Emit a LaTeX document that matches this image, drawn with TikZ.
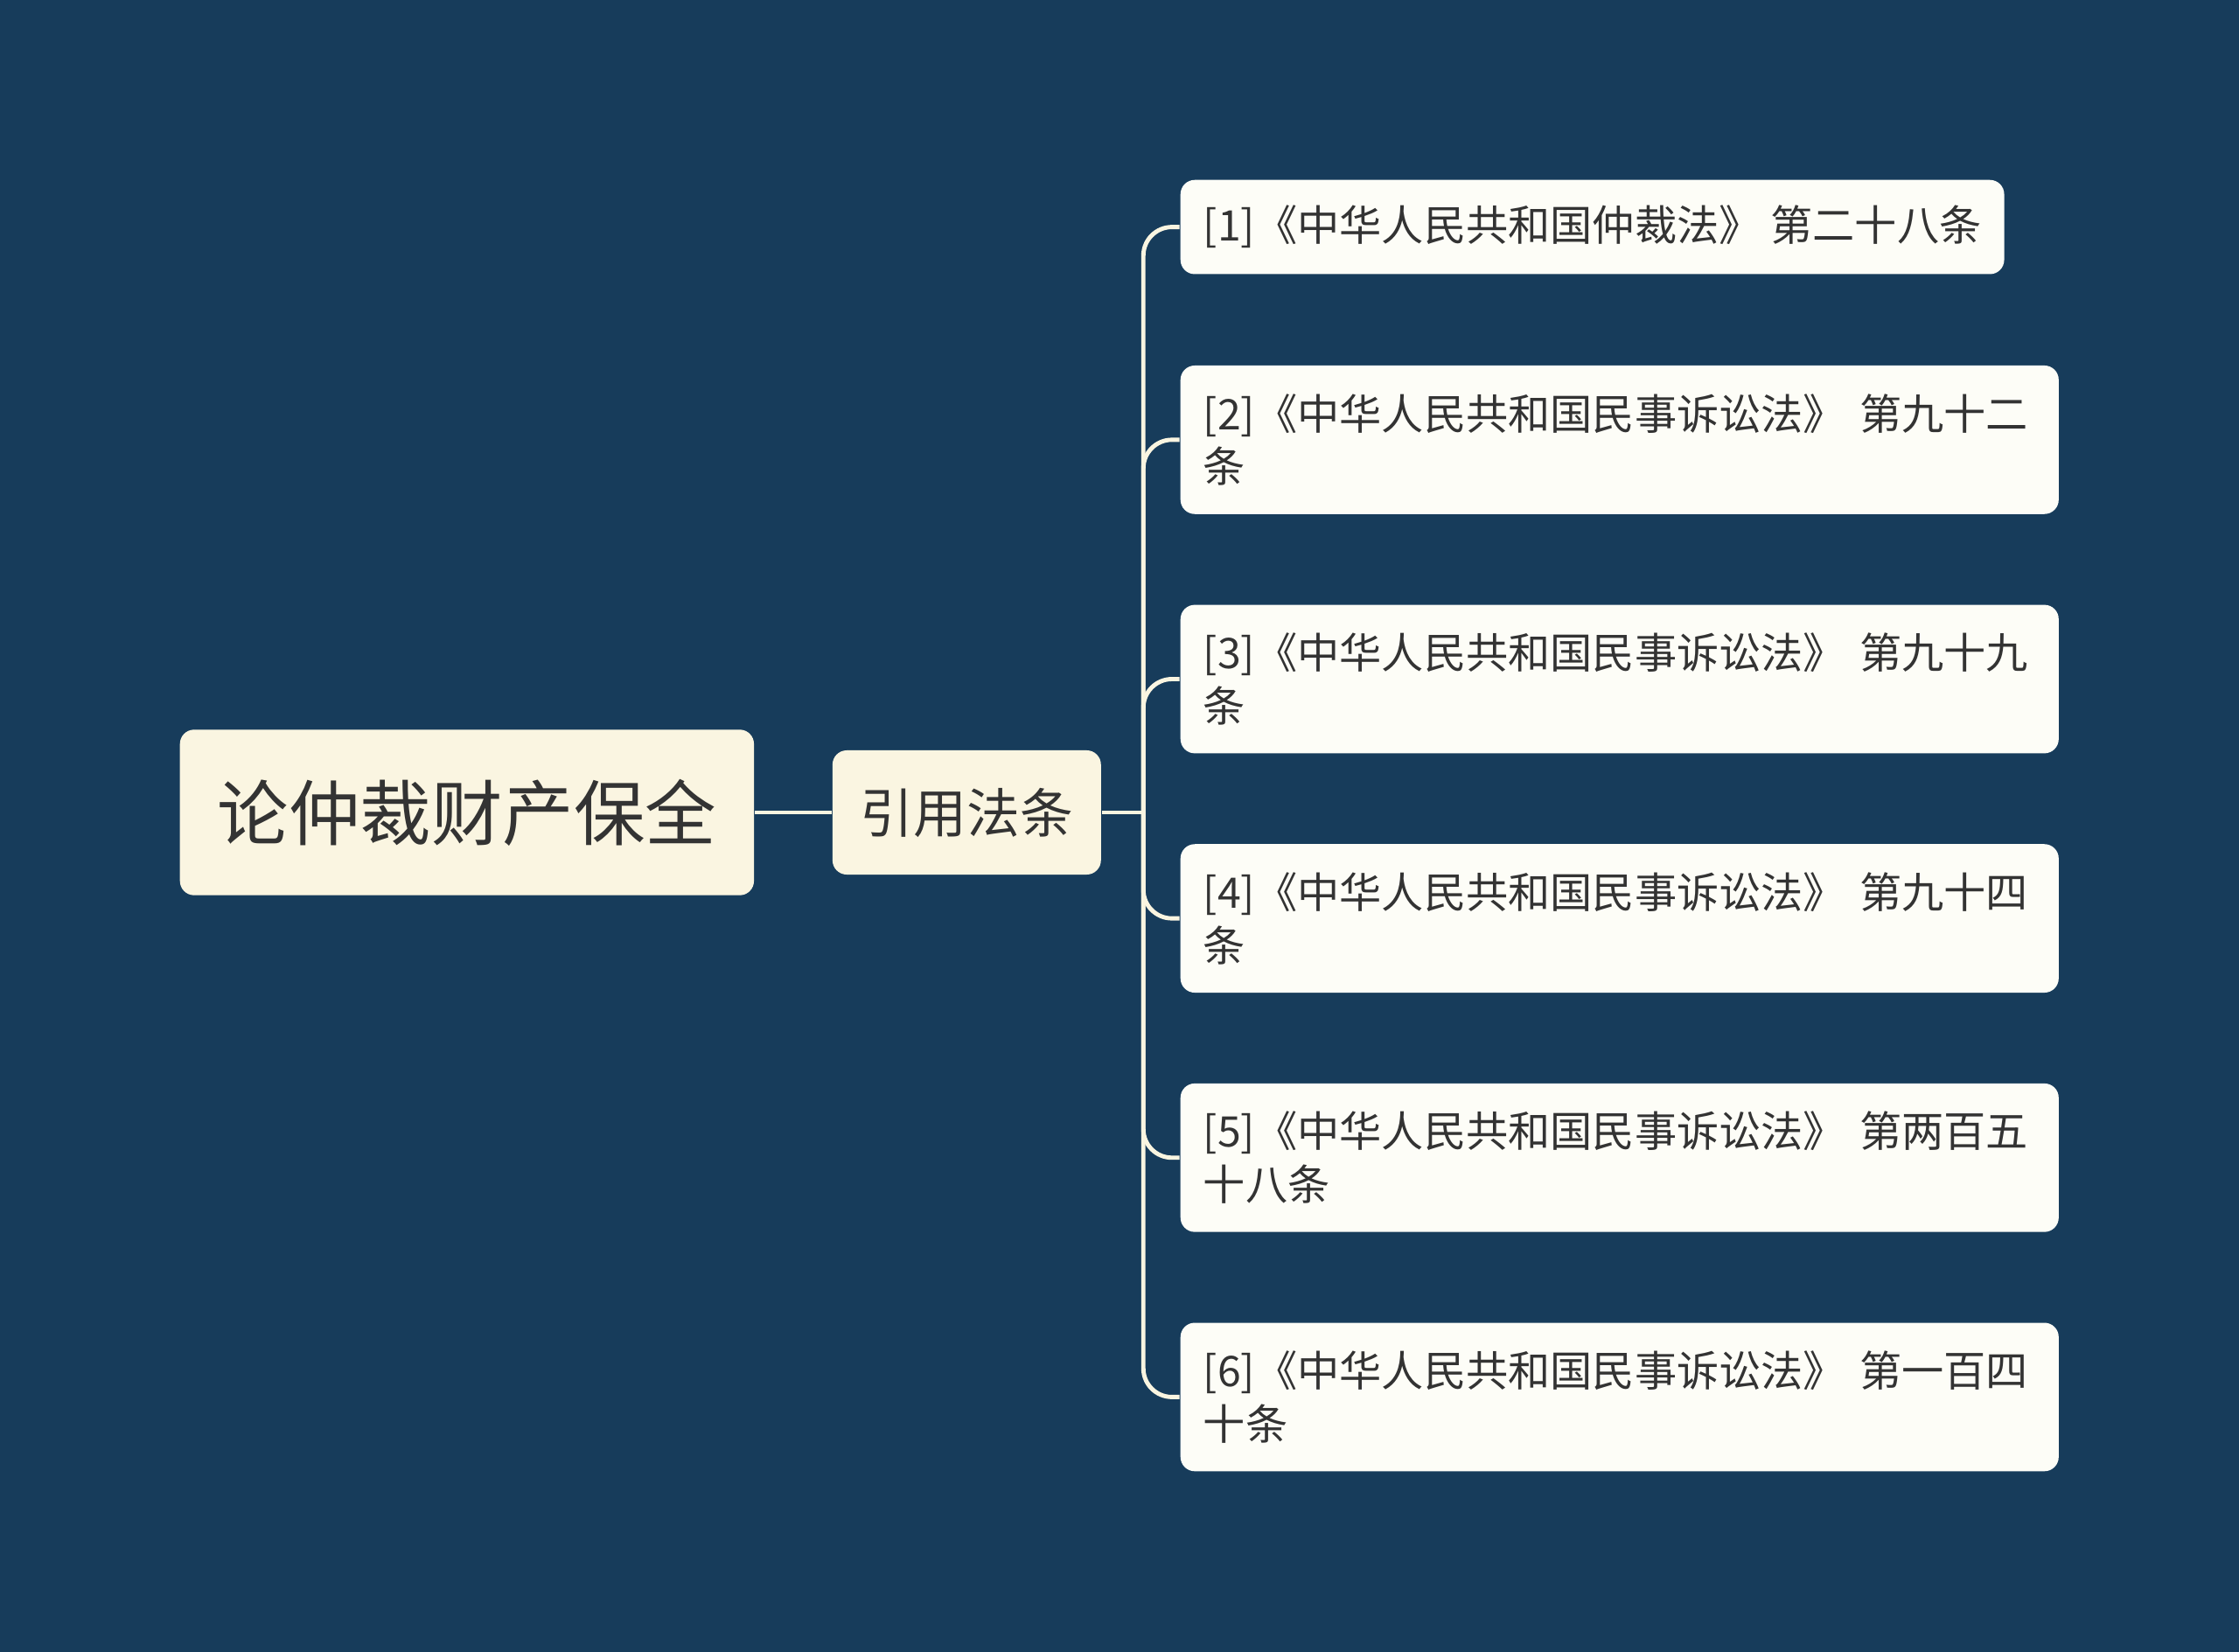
\documentclass[tikz,border=0pt]{standalone}
\usepackage{fontspec}
\setmainfont{Noto Sans CJK SC}
\usetikzlibrary{positioning}
\definecolor{bgblue}{HTML}{173C5B}
\definecolor{cream}{HTML}{FAF5E1}
\definecolor{paper}{HTML}{FDFDF7}
\definecolor{ink}{HTML}{333333}

\begin{document}
\begin{tikzpicture}[node distance=3.5cm,
    box/.style={rectangle,rounded corners=0.1cm,text=ink,inner ysep=0pt},
    topic/.style={box,fill=cream,minimum width=4.02cm,minimum height=1.16cm,
      font=\fontsize{14.2}{17}\selectfont},
    sub/.style={box,fill=cream,minimum width=1.88cm,minimum height=0.87cm,
      font=\fontsize{10.6}{13}\selectfont},
    law/.style={box,fill=paper,anchor=west,inner xsep=0.16cm,minimum height=0.66cm,
      font=\fontsize{8.4}{10.6}\selectfont},
    lawlong/.style={law,text width=5.83cm,align=left,minimum height=1.04cm},
    link/.style={draw=cream,line width=0.03cm,rounded corners=0.2cm}]
  \fill[bgblue] (0,0) rectangle (15.68,-11.57);
  \useasboundingbox (0,0) rectangle (15.68,-11.57);

  \node[topic] (root) at (3.27,-5.69) {论仲裁财产保全};
  \node[sub] (refs) [right of=root] {引用法条};
  \path (refs.east) ++(0.29,0) coordinate (hub);

  \node[law] (l1) at (8.26,-1.59) {[1]《中华人民共和国仲裁法》 第二十八条};
  \node[lawlong] (l2) at (8.26,-3.08) {[2]《中华人民共和国民事诉讼法》 第九十二\\条};
  \begin{scope}[node distance=1.676cm]
    \node[lawlong,anchor=center] (l3) [below of=l2] {[3]《中华人民共和国民事诉讼法》 第九十九\\条};
    \node[lawlong,anchor=center] (l4) [below of=l3] {[4]《中华人民共和国民事诉讼法》 第九十四\\条};
    \node[lawlong,anchor=center] (l5) [below of=l4] {[5]《中华人民共和国民事诉讼法》 第两百五\\十八条};
    \node[lawlong,anchor=center] (l6) [below of=l5] {[6]《中华人民共和国民事诉讼法》 第一百四\\十条};
  \end{scope}

  \draw[link] (root) -- (refs);
  \draw[link] (refs) -- (hub);
  \foreach \n in {l1,l2,l3,l4,l5,l6}
    \draw[link] (hub) |- (\n.west);
\end{tikzpicture}
\end{document}
